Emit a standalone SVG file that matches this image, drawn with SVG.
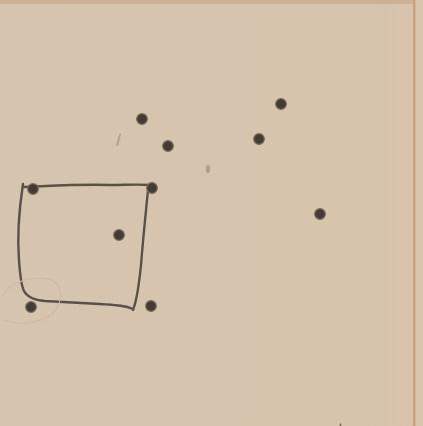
<svg xmlns="http://www.w3.org/2000/svg" width="423" height="426" viewBox="0 0 423 426">
<defs>
<style>
.dot{fill:#463b33;stroke:#76685a;stroke-width:1.2}
.pen{fill:none;stroke:#5a5048;stroke-width:2.4;stroke-linecap:round;stroke-linejoin:round}
.faint{fill:none;stroke:#cfb6a6;stroke-width:1.1}
.smudge{fill:#9c9288;opacity:0.7}
</style>
<linearGradient id="bg" x1="0" y1="0" x2="1" y2="0">
<stop offset="0" stop-color="#d6c5ae"/>
<stop offset="0.85" stop-color="#d6c4ad"/>
<stop offset="1" stop-color="#d9c2ac"/>
</linearGradient>
</defs>
<rect width="423" height="426" fill="url(#bg)"/>
<rect x="0" y="0" width="423" height="4" fill="#cbb297"/>
<rect x="413" y="0" width="10" height="426" fill="#d9c4ae"/>
<rect x="413" y="0" width="2.5" height="426" fill="#c9a27e"/>
<path d="M339.5,426 L340.5,422.5 L341.5,426 Z" fill="#6a5f55"/>
<g id="connectors">
<path class="pen" d="M23,184 C19,210 17,235 19,260 C20,275 21,285 24,291 C27,297 33,300 45,301 L100,304 C115,305 124,305 133,309"/>
<path class="pen" d="M24,187 C50,186 80,184 110,185 C125,185 138,184 150,185"/>
<path class="pen" d="M148,190 C145,220 143,240 141,265 C139,285 137,300 133,310"/>
<path class="faint" d="M2,296 C10,283 28,276 48,279 C64,283 64,303 52,314 C40,323 20,326 4,320"/>
</g>
<path class="smudge" d="M118,138 L120,133 L121,134 L118,146 L116,146 Z"/>
<ellipse class="smudge" cx="208" cy="169" rx="2.2" ry="4"/>
<g id="n1"><circle class="dot" cx="142" cy="119" r="5.3"/></g>
<g id="n2"><circle class="dot" cx="168" cy="146" r="5.3"/></g>
<g id="n3"><circle class="dot" cx="281" cy="104" r="5.3"/></g>
<g id="n4"><circle class="dot" cx="259" cy="139" r="5.3"/></g>
<g id="n5"><circle class="dot" cx="320" cy="214" r="5.3"/></g>
<g id="n6"><circle class="dot" cx="33" cy="189" r="5.3"/></g>
<g id="n7"><circle class="dot" cx="152" cy="188" r="5.3"/></g>
<g id="n8"><circle class="dot" cx="119" cy="235" r="5.3"/></g>
<g id="n9"><circle class="dot" cx="31" cy="307" r="5.3"/></g>
<g id="n10"><circle class="dot" cx="151" cy="306" r="5.3"/></g>
</svg>
